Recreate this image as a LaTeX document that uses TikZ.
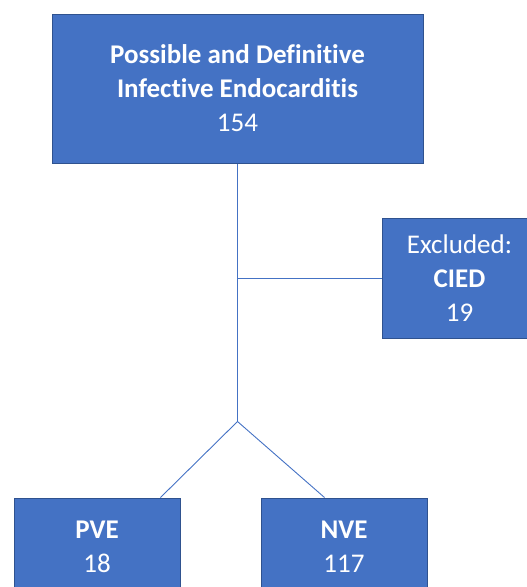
\documentclass[tikz,border=0pt]{standalone}
\usepackage{fontspec}
\setmainfont{Carlito}[Ligatures={NoCommon}]
\usepackage{xcolor}
\usepackage{tikz}
\usetikzlibrary{calc}
\definecolor{boxblue}{HTML}{4472C4}
\definecolor{boxedge}{HTML}{2F528F}
\tikzset{
    flowbox/.style = {rectangle, draw=boxedge, fill=boxblue, line width=1pt, text=white, align=center, inner sep=0pt, font=\fontsize{27}{34}\selectfont},
    main_box/.style = {flowbox, minimum width=371pt, minimum height=149pt},
    side_box/.style = {flowbox, minimum width=155pt, minimum height=120pt},
    leaf_box/.style = {flowbox, minimum width=166pt, minimum height=97pt},
    link/.style = {draw=boxblue, line width=0.9pt}
}
\begin{document}
\begin{tikzpicture}[x=1pt,y=-1pt]
            \useasboundingbox (0,0) rectangle (527,587);
            \clip (0,0) rectangle (527,587);

            % boxes
            \node [main_box] (total) at (237.5,88.5) {\textbf{Possible and Definitive}\\\textbf{Infective Endocarditis}\\154};
            \node [side_box] (excl) at (459.5,278) {Excluded:\\\textbf{CIED}\\19};
            \node [leaf_box] (pve) at (97,546.5) {\textbf{PVE}\\18};
            \node [leaf_box] (nve) at (344,546.5) {\textbf{NVE}\\117};

            % branch points
            \coordinate (split_excl) at (total.south |- excl.west);
            \coordinate (split_leaf) at ($(total.south)+(0,258)$);

            \draw [link] (total.south) -- (split_leaf);
            \draw [link] (split_excl) -- (excl.west);
            \draw [link] (split_leaf) -- ($(pve.north east)+(-20,0)$);
            \draw [link] (split_leaf) -- ($(nve.north west)+(64,0)$);
\end{tikzpicture}
\end{document}
